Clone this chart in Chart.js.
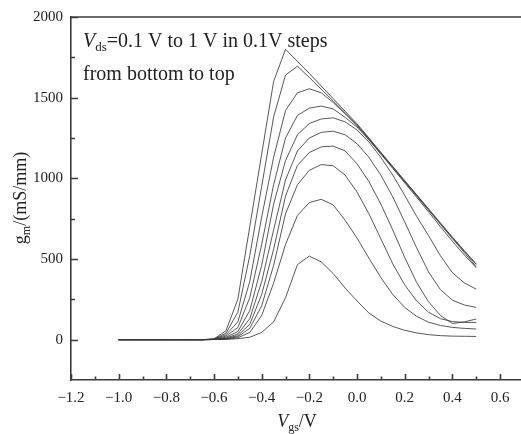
<!DOCTYPE html>
<html>
<head>
<meta charset="utf-8">
<script src="https://cdn.jsdelivr.net/npm/chart.js@4.4.1/dist/chart.umd.min.js"></script>
<style>
  html, body { margin: 0; padding: 0; background: #fff; }
</style>
</head>
<body>
<canvas id="chart" width="521" height="434"></canvas>
<script>
// gate voltage sweep (V)
const vgs = [-1.0, -0.95, -0.9, -0.85, -0.8, -0.75, -0.7, -0.65, -0.6, -0.55,
             -0.5, -0.45, -0.4, -0.35, -0.3, -0.25, -0.2, -0.15, -0.1, -0.05,
             0.0, 0.05, 0.1, 0.15, 0.2, 0.25, 0.3, 0.35, 0.4, 0.45, 0.5];

// gm (mS/mm), one array per Vds step
const gm01 = [0, 0, 0, 0, 0, 0, 0, 0, 1, 2, 6, 15, 45, 110, 260, 465, 518, 482, 410, 320,
              240, 165, 115, 82, 58, 42, 31, 25, 22, 21, 20];
const gm02 = [0, 0, 0, 0, 0, 0, 0, 0, 1, 3, 12, 45, 150, 350, 590, 770, 850, 870, 835, 740,
              630, 505, 385, 280, 200, 145, 108, 88, 76, 70, 66];
const gm03 = [0, 0, 0, 0, 0, 0, 0, 0, 1, 5, 18, 70, 210, 460, 780, 960, 1050, 1085, 1078, 1020,
              915, 780, 625, 470, 340, 240, 170, 130, 112, 107, 107];
const gm04 = [0, 0, 0, 0, 0, 0, 0, 0, 1, 7, 25, 95, 280, 560, 890, 1080, 1160, 1195, 1200, 1170,
              1090, 980, 840, 680, 510, 355, 235, 150, 100, 110, 128];
const gm05 = [0, 0, 0, 0, 0, 0, 0, 0, 1, 10, 35, 130, 360, 680, 990, 1170, 1250, 1285, 1292, 1270,
              1215, 1130, 1020, 885, 730, 570, 420, 310, 245, 215, 200];
const gm06 = [0, 0, 0, 0, 0, 0, 0, 0, 2, 15, 50, 180, 460, 840, 1110, 1270, 1340, 1368, 1375, 1350,
              1300, 1225, 1130, 1020, 895, 765, 645, 520, 415, 352, 313];
const gm07 = [0, 0, 0, 0, 0, 0, 0, 0, 2, 22, 75, 260, 590, 960, 1250, 1390, 1435, 1448, 1430, 1378,
              1318, 1238, 1150, 1062, 972, 883, 792, 700, 610, 525, 446];
const gm08 = [0, 0, 0, 0, 0, 0, 0, 0, 3, 30, 110, 360, 760, 1130, 1420, 1530, 1555, 1530, 1470, 1400,
              1326, 1242, 1155, 1067, 979, 891, 803, 715, 627, 540, 452];
const gm09 = [0, 0, 0, 0, 0, 0, 0, 0, 4, 40, 170, 520, 950, 1380, 1640, 1695, 1625, 1552, 1480, 1406,
              1332, 1246, 1158, 1070, 983, 896, 808, 720, 632, 548, 465];
const gm10 = [0, 0, 0, 0, 0, 0, 0, 0, 5, 55, 250, 700, 1150, 1600, 1800, 1725, 1650, 1572, 1494, 1416,
              1338, 1250, 1161, 1073, 986, 899, 811, 723, 636, 552, 470];

const vdsLabels = ['0.1 V', '0.2 V', '0.3 V', '0.4 V', '0.5 V', '0.6 V', '0.7 V', '0.8 V', '0.9 V', '1.0 V'];
const gmSeries = [gm01, gm02, gm03, gm04, gm05, gm06, gm07, gm08, gm09, gm10];

const xMajorTicks = [-1.2, -1.0, -0.8, -0.6, -0.4, -0.2, 0.0, 0.2, 0.4, 0.6];
const xMinorTicks = [-1.1, -0.9, -0.7, -0.5, -0.3, -0.1, 0.1, 0.3, 0.5];
const yMajorTicks = [0, 500, 1000, 1500, 2000];
const yMinorTicks = [250, 750, 1250, 1750];

const AXIS_COLOR = '#3c3c3c';
const LINE_COLOR = '#3a3a3a';
const TEXT_COLOR = '#222';
const SERIF = '"Liberation Serif", "Times New Roman", serif';

// draws a run of text pieces (for subscripts / italics) starting at x
function drawRich(ctx, parts, x, y, align) {
    let total = 0;
    for (const p of parts) {
        ctx.font = p.font;
        total += ctx.measureText(p.text).width;
    }
    let cx = align === 'center' ? x - total / 2 : x;
    ctx.textAlign = 'left';
    ctx.textBaseline = 'alphabetic';
    for (const p of parts) {
        ctx.font = p.font;
        ctx.fillText(p.text, cx, y + (p.dy || 0));
        cx += ctx.measureText(p.text).width;
    }
}

const framePlugin = {
    id: 'frame_and_ticks',
    afterDraw: (chart) => {
        const { ctx, chartArea, scales } = chart;
        const x = scales.x, y = scales.y;
        ctx.save();
        ctx.strokeStyle = AXIS_COLOR;
        ctx.lineWidth = 1.6;
        ctx.beginPath();
        ctx.moveTo(chartArea.left, chartArea.top);
        ctx.lineTo(chartArea.right, chartArea.top);
        for (const v of xMajorTicks) {
            const px = Math.round(x.getPixelForValue(v)) + 0.5;
            ctx.moveTo(px, chartArea.bottom);
            ctx.lineTo(px, chartArea.bottom - 6);
        }
        for (const v of xMinorTicks) {
            const px = Math.round(x.getPixelForValue(v)) + 0.5;
            ctx.moveTo(px, chartArea.bottom);
            ctx.lineTo(px, chartArea.bottom - 3.5);
        }
        for (const v of yMajorTicks) {
            const py = Math.round(y.getPixelForValue(v)) + 0.5;
            ctx.moveTo(chartArea.left, py);
            ctx.lineTo(chartArea.left + 7, py);
        }
        for (const v of yMinorTicks) {
            const py = Math.round(y.getPixelForValue(v)) + 0.5;
            ctx.moveTo(chartArea.left, py);
            ctx.lineTo(chartArea.left + 4, py);
        }
        ctx.stroke();

        ctx.fillStyle = TEXT_COLOR;
        // annotation inside the plot
        drawRich(ctx, [
            { text: 'V', font: 'italic 20px ' + SERIF },
            { text: 'ds', font: '13px ' + SERIF, dy: 4 },
            { text: '=0.1 V to 1 V in 0.1V steps', font: '20px ' + SERIF }
        ], chartArea.left + 12, 47, 'left');
        drawRich(ctx, [
            { text: 'from bottom to top', font: '20px ' + SERIF }
        ], chartArea.left + 12, 80, 'left');

        // x axis title
        drawRich(ctx, [
            { text: 'V', font: 'italic 18px ' + SERIF },
            { text: 'gs', font: '12px ' + SERIF, dy: 4 },
            { text: '/V', font: '18px ' + SERIF }
        ], 297, 427, 'center');

        // y axis title, rotated
        ctx.translate(26, 198);
        ctx.rotate(-Math.PI / 2);
        drawRich(ctx, [
            { text: 'g', font: '18px ' + SERIF },
            { text: 'm', font: '12px ' + SERIF, dy: 4 },
            { text: '/(mS/mm)', font: '18px ' + SERIF }
        ], 0, 0, 'center');
        ctx.restore();
    }
};

Chart.register(framePlugin);

const datasets = gmSeries.map((series, i) => ({
    label: vdsLabels[i],
    data: series.map((g, j) => ({ x: vgs[j], y: g })),
    borderColor: LINE_COLOR,
    borderWidth: 0.85,
    pointRadius: 0,
    tension: 0,
    fill: false
}));

new Chart(document.getElementById('chart'), {
    type: 'line',
    data: { datasets },
    options: {
        responsive: false,
        animation: false,
        events: [],
        layout: { padding: { top: 15, right: 0, left: 0, bottom: 0 } },
        plugins: {
            legend: { display: false },
            tooltip: { enabled: false }
        },
        scales: {
            x: {
                type: 'linear',
                min: -1.2,
                max: 0.688,
                afterBuildTicks: (scale) => { scale.ticks = xMajorTicks.map(v => ({ value: v })); },
                afterFit: (scale) => { scale.height = 54; },
                grid: { display: false, drawTicks: false },
                border: { display: true, color: AXIS_COLOR, width: 1.6 },
                ticks: {
                    padding: 9,
                    color: TEXT_COLOR,
                    font: { family: SERIF, size: 15 },
                    maxRotation: 0,
                    autoSkip: false,
                    callback: (v) => (v < 0 ? '\u2212' : '') + Math.abs(v).toFixed(1)
                }
            },
            y: {
                type: 'linear',
                min: -250,
                max: 2000,
                afterBuildTicks: (scale) => { scale.ticks = yMajorTicks.map(v => ({ value: v })); },
                afterFit: (scale) => { scale.width = 71; },
                grid: { display: false, drawTicks: false },
                border: { display: true, color: AXIS_COLOR, width: 1.6 },
                ticks: {
                    padding: 8,
                    color: TEXT_COLOR,
                    font: { family: SERIF, size: 15 },
                    autoSkip: false,
                    callback: (v) => String(v)
                }
            }
        }
    }
});
</script>
</body>
</html>
